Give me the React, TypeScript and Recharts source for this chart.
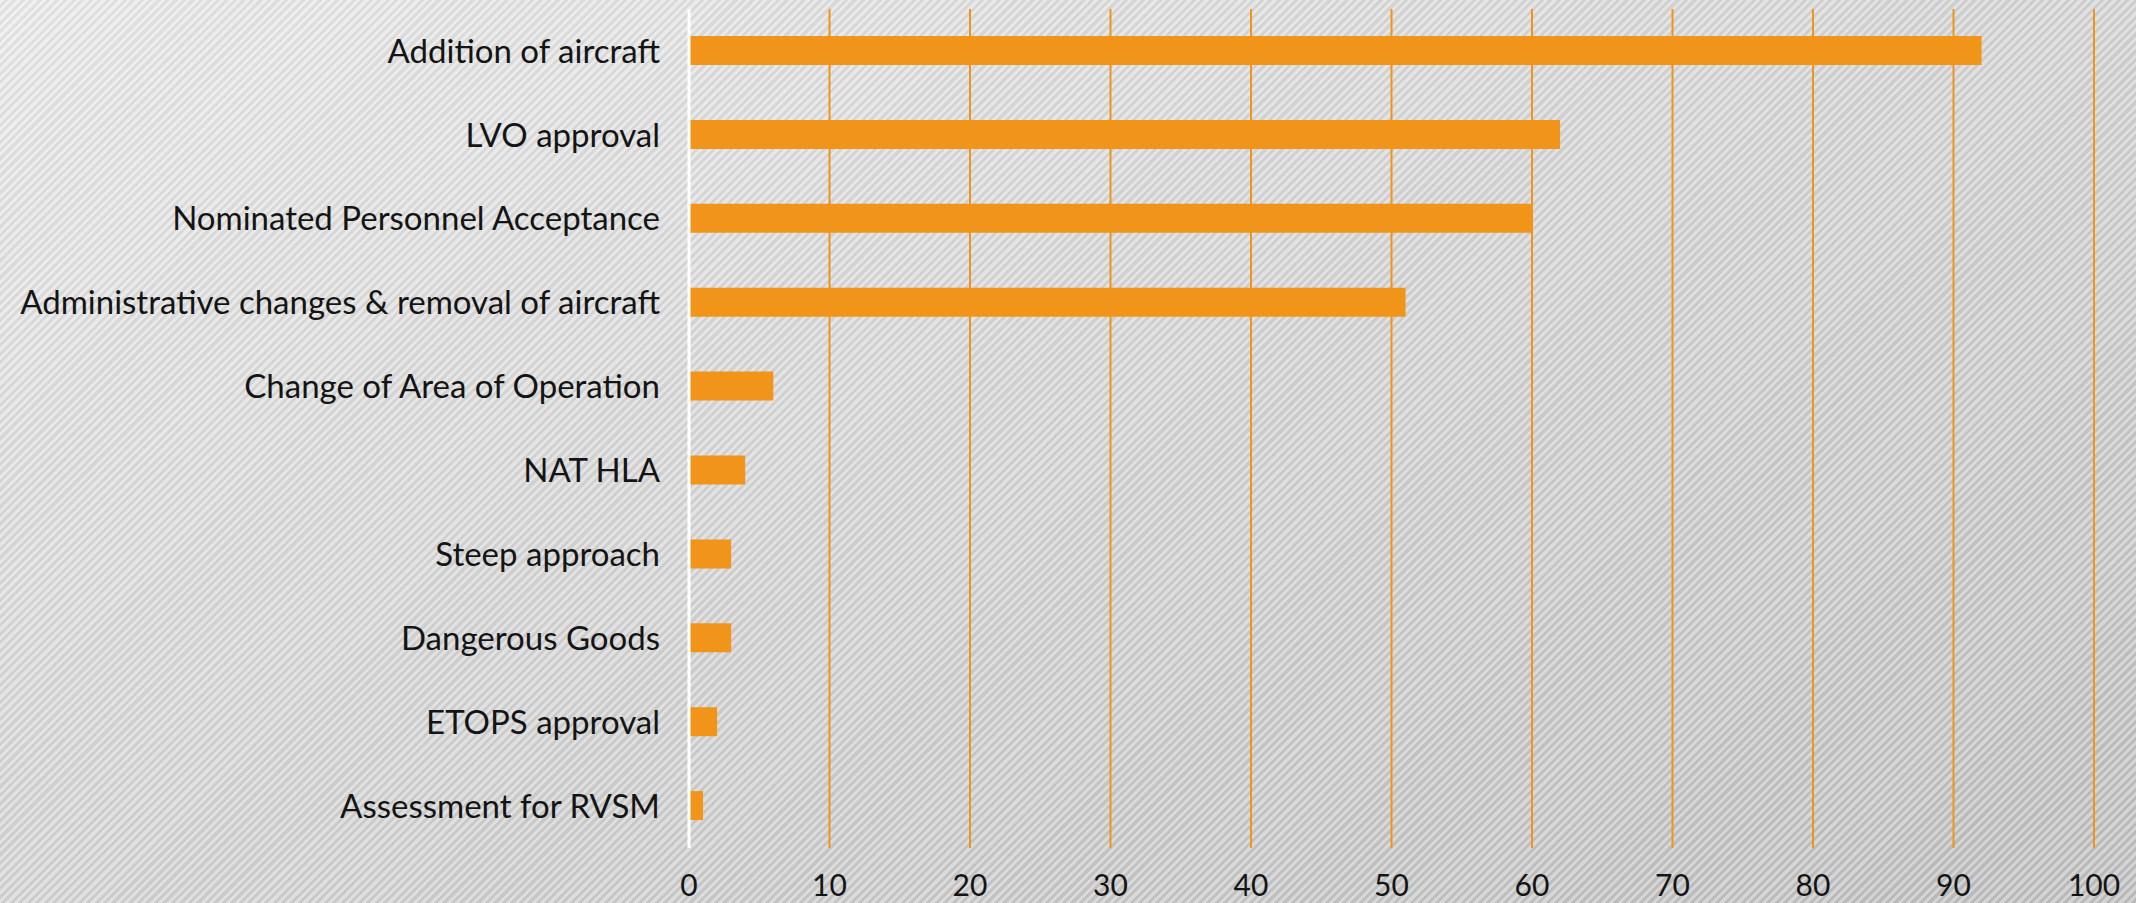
import { BarChart, Bar, XAxis, YAxis, CartesianGrid } from 'recharts'

const categories = [
  'Addition of aircraft',
  'LVO approval',
  'Nominated Personnel Acceptance',
  'Administrative changes & removal of aircraft',
  'Change of Area of Operation',
  'NAT HLA',
  'Steep approach',
  'Dangerous Goods',
  'ETOPS approval',
  'Assessment for RVSM',
]
const counts = [92, 62, 60, 51, 6, 4, 3, 3, 2, 1]
const xTicks = [0, 10, 20, 30, 40, 50, 60, 70, 80, 90, 100]

const data = categories.map((name, i) => ({ name, count: counts[i] }))

const ORANGE = '#F0951A'
const FONT = 'Lato, "Liberation Sans", sans-serif'
const catTick = { fill: '#141414', fontSize: 33, fontFamily: FONT }
const numTick = { fill: '#141414', fontSize: 30, fontFamily: FONT }

export default function App() {
  return (
    <div
      style={{
        position: 'absolute',
        left: 0,
        top: 0,
        width: 2136,
        height: 903,
        background:
          'repeating-linear-gradient(135deg, rgba(255,255,255,0.3) 0px, rgba(255,255,255,0.3) 3px, rgba(0,0,0,0.04) 3px, rgba(0,0,0,0.04) 6px), linear-gradient(to bottom right, #e9e9e9, #bfbfbf)',
      }}
    >
      <BarChart
        width={2136}
        height={903}
        data={data}
        layout="vertical"
        margin={{ top: 9, right: 42, bottom: 0, left: 0 }}
      >
        <CartesianGrid vertical horizontal={false} stroke={ORANGE} strokeWidth={2} />
        <XAxis
          type="number"
          domain={[0, 100]}
          ticks={xTicks}
          axisLine={false}
          tickLine={false}
          tickSize={0}
          tickMargin={27}
          tick={numTick}
          height={55}
        />
        <YAxis
          type="category"
          dataKey="name"
          width={689}
          axisLine={{ stroke: '#ffffff', strokeWidth: 3 }}
          tickLine={false}
          tickSize={0}
          tickMargin={29}
          tick={catTick}
          interval={0}
        />
        <Bar dataKey="count" fill={ORANGE} barSize={29} isAnimationActive={false} />
      </BarChart>
    </div>
  )
}
